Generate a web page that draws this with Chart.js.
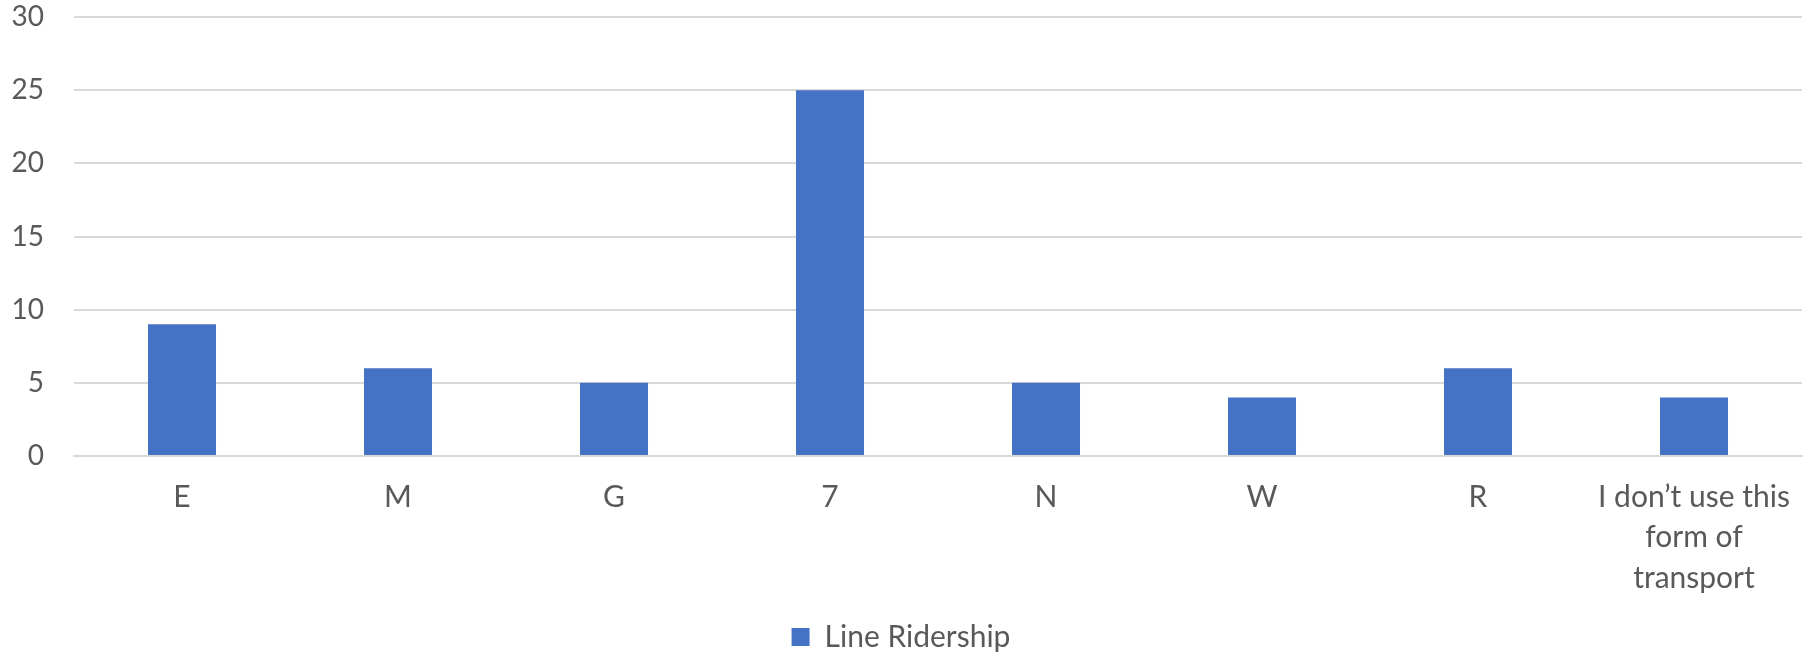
<!DOCTYPE html>
<html>
<head>
<meta charset="utf-8">
<script src="https://cdn.jsdelivr.net/npm/chart.js@4.4.0/dist/chart.umd.min.js"></script>
<style>
  html, body { margin: 0; padding: 0; background: #fff; }
  #wrap { width: 1816px; height: 655px; }
</style>
</head>
<body>
<div id="wrap"><canvas id="lineChart"></canvas></div>
<script>
// chart data
const categories = ['E', 'M', 'G', '7', 'N', 'W', 'R', ['I don\u2019t use this', 'form of', 'transport']];
const ridership = [9, 6, 5, 25, 5, 4, 6, 4];
const yTicks = [0, 5, 10, 15, 20, 25, 30];

const textColor = '#595959';
const gridColor = '#D9D9D9';
const fontFamily = 'Lato, "Open Sans", sans-serif';

Chart.defaults.font.family = fontFamily;
Chart.defaults.color = textColor;

new Chart(document.getElementById('lineChart'), {
    type: 'bar',
    data: {
        labels: categories,
        datasets: [{
            label: 'Line Ridership',
            data: ridership,
            backgroundColor: '#4472C4',
            borderWidth: 0,
            categoryPercentage: 1,
            barPercentage: 0.315
        }]
    },
    options: {
        responsive: true,
        maintainAspectRatio: false,
        animation: false,
        layout: {
            padding: { top: 17, right: 14, left: 0, bottom: -7 }
        },
        plugins: {
            legend: {
                position: 'bottom',
                labels: {
                    boxWidth: 18,
                    boxHeight: 18,
                    padding: 4,
                    font: { size: 30 }
                }
            },
            tooltip: { enabled: false }
        },
        scales: {
            x: {
                grid: { display: false, drawTicks: false },
                border: { color: gridColor, width: 2 },
                ticks: {
                    padding: 21,
                    font: { size: 30, lineHeight: 1.35 },
                    maxRotation: 0,
                    autoSkip: false
                },
                afterFit: function(scale) { scale.height = 162; }
            },
            y: {
                min: 0,
                max: 30,
                // invisible tick marks keep the labels 30px off the plot
                grid: { color: gridColor, lineWidth: 2, drawTicks: true, tickLength: 30, tickColor: 'rgba(0,0,0,0)' },
                border: { display: false },
                afterBuildTicks: function(scale) {
                    scale.ticks = yTicks.map(v => ({ value: v }));
                },
                ticks: {
                    padding: 0,
                    font: { size: 28 }
                },
                afterFit: function(scale) { scale.width = 74; }
            }
        }
    }
});
</script>
</body>
</html>
